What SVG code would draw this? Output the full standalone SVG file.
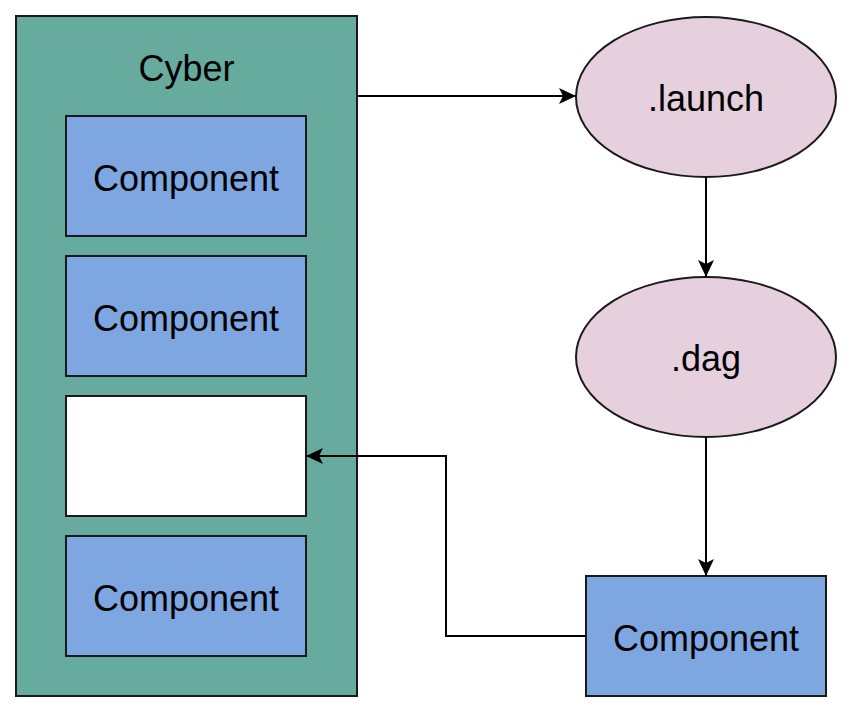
<svg xmlns="http://www.w3.org/2000/svg" width="854" height="714" viewBox="0 0 854 714">
<style>
.box{stroke:#1a1a1a;stroke-width:2}
.green{fill:#67AB9F}
.blue{fill:#7EA6E0}
.pink{fill:#E6D0DE}
.white{fill:#FFFFFF}
.lbl{font-family:"Liberation Sans",Arial,sans-serif;font-size:36px;fill:#000;text-anchor:middle}
.edge{fill:none;stroke:#000;stroke-width:2}
</style>
<defs>
<marker id="arr" markerUnits="userSpaceOnUse" markerWidth="20" markerHeight="20" viewBox="0 0 20 20" refX="18" refY="10" orient="auto">
<path d="M1,2 L18,10 L1,18 L5,10 Z" fill="#000"/>
</marker>
</defs>
<rect width="854" height="714" fill="#fff"/>
<g id="cyber">
<rect class="box green" x="16" y="16" width="341" height="680"/>
<text class="lbl" x="186.5" y="81">Cyber</text>
</g>
<g id="comp1">
<rect class="box blue" x="66" y="116" width="240" height="120"/>
<text class="lbl" x="186" y="191">Component</text>
</g>
<g id="comp2">
<rect class="box blue" x="66" y="256" width="240" height="120"/>
<text class="lbl" x="186" y="331">Component</text>
</g>
<g id="empty">
<rect class="box white" x="66" y="396" width="240" height="120"/>
</g>
<g id="comp4">
<rect class="box blue" x="66" y="536" width="240" height="120"/>
<text class="lbl" x="186" y="611">Component</text>
</g>
<g id="launch">
<ellipse class="box pink" cx="706" cy="97" rx="130" ry="80"/>
<text class="lbl" x="706" y="111">.launch</text>
</g>
<g id="dag">
<ellipse class="box pink" cx="706" cy="357" rx="130" ry="80"/>
<text class="lbl" x="706" y="371">.dag</text>
</g>
<g id="comp5">
<rect class="box blue" x="586" y="576" width="240" height="120"/>
<text class="lbl" x="706" y="651">Component</text>
</g>
<g id="connectors">
<path class="edge" d="M357,96 L576,96" marker-end="url(#arr)"/>
<path class="edge" d="M706,177 L706,277" marker-end="url(#arr)"/>
<path class="edge" d="M706,437 L706,576" marker-end="url(#arr)"/>
<path class="edge" d="M586,636 L446,636 L446,456 L306,456" marker-end="url(#arr)"/>
</g>
</svg>
